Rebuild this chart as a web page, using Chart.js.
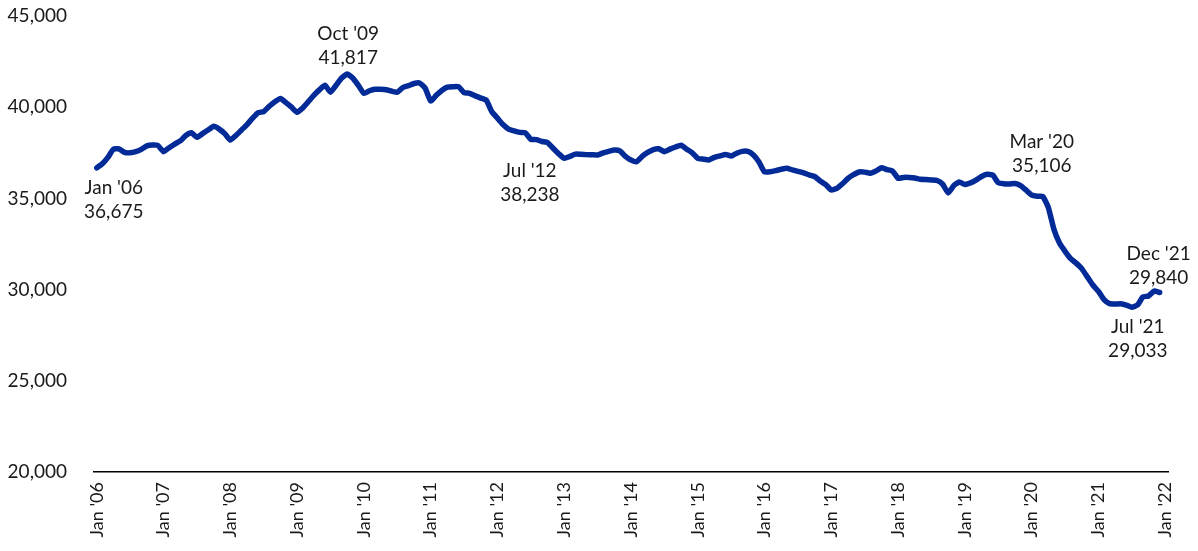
<!DOCTYPE html>
<html>
<head>
<meta charset="utf-8">
<script src="https://cdn.jsdelivr.net/npm/chart.js@4.4.1/dist/chart.umd.min.js"></script>
<style>
  html, body { margin: 0; padding: 0; background: #fff; }
  #wrap { width: 1198px; height: 551px; position: relative; }
</style>
</head>
<body>
<div id="wrap"><canvas id="chart"></canvas></div>
<script>
// monthly values, Jan '06 .. Dec '21 (one row per year)
const monthlyValues = [
  36675, 36900, 37250, 37700, 37720, 37520, 37500, 37560, 37690, 37880, 37930, 37900, // 2006
  37560, 37780, 37980, 38150, 38450, 38600, 38350, 38550, 38750, 38950, 38800, 38550, // 2007
  38200, 38450, 38750, 39050, 39400, 39700, 39760, 40050, 40300, 40480, 40250, 40000, // 2008
  39720, 39950, 40300, 40650, 40950, 41200, 40820, 41200, 41600, 41817, 41600, 41200, // 2009
  40760, 40900, 40980, 40980, 40960, 40880, 40820, 41080, 41180, 41300, 41330, 41050, // 2010
  40340, 40650, 40920, 41100, 41125, 41125, 40800, 40760, 40620, 40500, 40380, 39750, // 2011
  39400, 39050, 38800, 38700, 38620, 38600, 38238, 38220, 38120, 38060, 37750, 37450, // 2012
  37200, 37300, 37430, 37420, 37400, 37390, 37380, 37500, 37580, 37650, 37600, 37300, // 2013
  37100, 37010, 37300, 37520, 37680, 37720, 37560, 37700, 37820, 37920, 37700, 37500, // 2014
  37200, 37150, 37110, 37250, 37330, 37410, 37320, 37480, 37580, 37580, 37380, 37000, // 2015
  36450, 36460, 36520, 36600, 36650, 36560, 36480, 36400, 36290, 36200, 35950, 35750, // 2016
  35460, 35550, 35800, 36100, 36300, 36450, 36440, 36380, 36500, 36680, 36580, 36500, // 2017
  36100, 36150, 36150, 36120, 36050, 36030, 36010, 35980, 35780, 35300, 35700, 35900, // 2018
  35760, 35850, 36000, 36200, 36320, 36280, 35860, 35800, 35790, 35820, 35700, 35450, // 2019
  35185, 35120, 35106, 34500, 33300, 32550, 32100, 31700, 31450, 31150, 30700, 30250, // 2020
  29900, 29450, 29230, 29210, 29220, 29150, 29033, 29150, 29600, 29650, 29920, 29840  // 2021
];

const monthNames = ["Jan", "Feb", "Mar", "Apr", "May", "Jun", "Jul", "Aug", "Sep", "Oct", "Nov", "Dec"];
const tickLabels = ["Jan '06", "Jan '07", "Jan '08", "Jan '09", "Jan '10", "Jan '11", "Jan '12", "Jan '13",
  "Jan '14", "Jan '15", "Jan '16", "Jan '17", "Jan '18", "Jan '19", "Jan '20", "Jan '21", "Jan '22"];
const yTicks = [20000, 25000, 30000, 35000, 40000, 45000];

// months (index from Jan '06) that get a callout
const calloutMonths = [0, 45, 78, 170, 186, 191];

const FONT = "Lato, 'Open Sans', sans-serif";
const TEXT = "#1a1a1a";
const LINE = "#032B98";

function monthLabel(i) {
  const yy = String(6 + Math.floor(i / 12)).padStart(2, "0");
  return monthNames[i % 12] + " '" + yy;
}

// callout offsets from the point, px (label centre, first line)
const calloutOffsets = {
  0: [17, 20], 45: [1, -40], 78: [-1, 32], 170: [-1, -55], 186: [6, 20], 191: [-1, -39]
};

const callouts = {
  id: "callouts",
  afterDatasetsDraw(chart) {
    const { ctx, scales: { x, y } } = chart;
    ctx.save();
    ctx.font = "19px " + FONT;
    ctx.fillStyle = TEXT;
    ctx.textAlign = "center";
    ctx.textBaseline = "middle";
    calloutMonths.forEach((m) => {
      const px = x.getPixelForValue(m);
      const py = y.getPixelForValue(monthlyValues[m]);
      const [dx, dy] = calloutOffsets[m];
      ctx.fillText(monthLabel(m), px + dx, py + dy);
      ctx.fillText(monthlyValues[m].toLocaleString("en-US"), px + dx, py + dy + 24);
    });
    ctx.restore();
  }
};

new Chart(document.getElementById("chart").getContext("2d"), {
  type: "line",
  data: {
    datasets: [{
      data: monthlyValues.map((v, i) => ({ x: i, y: v })),
      borderColor: LINE,
      borderWidth: 5.5,
      borderJoinStyle: "round",
      borderCapStyle: "round",
      tension: 0.15,
      pointRadius: 0,
      fill: false
    }]
  },
  options: {
    responsive: true,
    maintainAspectRatio: false,
    animation: false,
    layout: { padding: { top: 16, right: 30, left: 0, bottom: 0 } },
    plugins: { legend: { display: false }, tooltip: { enabled: false } },
    scales: {
      x: {
        type: "linear",
        min: -0.5,
        max: 192.5,
        afterBuildTicks: (scale) => { scale.ticks = tickLabels.map((_, i) => ({ value: i * 12 })); },
        afterFit: (scale) => { scale.height = 79; },
        grid: { display: false, drawTicks: false },
        border: { display: true, color: "#000", width: 1.5 },
        ticks: {
          autoSkip: false,
          maxRotation: 90,
          minRotation: 90,
          padding: 10,
          color: TEXT,
          font: { family: FONT, size: 18 },
          callback: (v) => tickLabels[Math.round(v / 12)]
        }
      },
      y: {
        min: 20000,
        max: 45000,
        afterBuildTicks: (scale) => { scale.ticks = yTicks.map((v) => ({ value: v })); },
        afterFit: (scale) => {
          scale.width = 94;
          scale.paddingTop = 0;
          scale.paddingBottom = 0;
        },
        grid: { display: false, drawTicks: false },
        border: { display: false },
        ticks: {
          padding: 27,
          color: TEXT,
          font: { family: FONT, size: 19 },
          callback: (v) => v.toLocaleString("en-US")
        }
      }
    }
  },
  plugins: [callouts]
});
</script>
</body>
</html>
